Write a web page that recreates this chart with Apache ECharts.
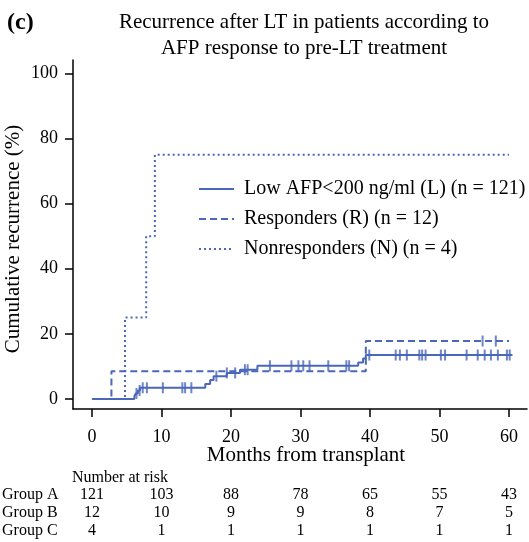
<!DOCTYPE html>
<html><head><meta charset="utf-8">
<script src="https://cdn.jsdelivr.net/npm/echarts@6/dist/echarts.min.js"></script>
<style>html,body{margin:0;padding:0;background:#fff}#c{width:529px;height:542px}</style>
</head><body><div id="c"></div>
<script>
const FONT = '"Liberation Serif","Times New Roman",serif';
const COLOR = '#4a67b9';

const seriesNames = ['Low AFP<200 ng/ml (L) (n = 121)', 'Responders (R) (n = 12)', 'Nonresponders (N) (n = 4)'];
// step points: [month, cumulative recurrence %]
const lowAfpSteps = [[0,0],[6.1,0.85],[6.3,1.7],[6.6,2.6],[6.9,3.45],[16.3,4.6],[17.0,5.8],[17.5,7.0],[19.4,8.0],[21.3,9.0],[23.8,10.2],[38.3,11.2],[39.0,12.4],[39.4,13.5],[60.5,13.5]];
const respSteps = [[0,0],[2.8,8.5],[39.4,17.8],[60,17.8]];
const nonrespSteps = [[0,0],[4.75,25],[7.8,50],[9.05,75],[60,75]];
// censoring times (months)
const lowAfpCensored = [6.4,6.85,7.3,7.9,10.2,13.0,13.4,14.3,17.9,19.4,20.6,22.0,22.4,25.6,28.7,29.7,30.4,31.3,34.0,36.6,37.0,39.9,43.7,44.3,45.3,47.1,47.5,48.0,50.2,50.8,53.9,55.5,56.5,57.4,58.4,59.7,60.1];
const respCensored = [56.2,58.1];

const xTicks = [0,10,20,30,40,50,60];
const yTicks = [0,20,40,60,80,100];

const riskMonths = [0,10,20,30,40,50,60];
const riskGroups = ['Group A','Group B','Group C'];
const riskA = [121,103,88,78,65,55,43];
const riskB = [12,10,9,9,8,7,5];
const riskC = [4,1,1,1,1,1,1];

function levelAt(steps, t){
  let v = 0;
  for (const s of steps){ if (s[0] <= t) v = s[1]; }
  return v;
}
const censorA = lowAfpCensored.map(t => [t, levelAt(lowAfpSteps, t)]);
const censorB = respCensored.map(t => [t, levelAt(respSteps, t)]);

const chart = echarts.init(document.getElementById('c'), null, {renderer:'canvas'});
const axisCommon = {
  type:'value', splitLine:{show:false},
  axisLine:{show:true, onZero:false, lineStyle:{color:'#000', width:1.5}},
  axisTick:{show:true, length:8, lineStyle:{color:'#000', width:1.5}},
  axisLabel:{fontSize:18, fontFamily:FONT, color:'#000'}
};
const option = {
  animation:false,
  backgroundColor:'#fff',
  grid:{left:73, right:2, top:60, bottom:133, containLabel:false, outerBoundsMode:'none'},
  xAxis: Object.assign({}, axisCommon, {
    min:-2.73, max:62.59,
    axisTick: Object.assign({}, axisCommon.axisTick, {customValues:xTicks}),
    axisLabel: Object.assign({}, axisCommon.axisLabel, {customValues:xTicks, margin:19}),
    name:'Months from transplant', nameLocation:'middle', nameGap:36, nameMoveOverlap:false,
    nameTextStyle:{fontSize:21, fontFamily:FONT, color:'#000', padding:[0,0,0,12]}
  }),
  yAxis: Object.assign({}, axisCommon, {
    min:-3.07, max:104.08,
    axisTick: Object.assign({}, axisCommon.axisTick, {customValues:yTicks}),
    axisLabel: Object.assign({}, axisCommon.axisLabel, {customValues:yTicks, margin:15}),
    name:'Cumulative recurrence (%)', nameLocation:'middle', nameGap:49, nameRotate:90, nameMoveOverlap:false,
    nameTextStyle:{fontSize:21, fontFamily:FONT, color:'#000', padding:[0,9,0,0]}
  }),
  legend:{
    orient:'vertical', left:193, top:174, itemWidth:35, itemHeight:14, itemGap:10,
    data:seriesNames,
    itemStyle:{color:'rgba(0,0,0,0)', borderWidth:0, opacity:0},
    textStyle:{fontSize:20, fontFamily:FONT, color:'#000', lineHeight:20, padding:[0,0,0,5]}
  },
  series:[
    {name:seriesNames[2], type:'line', step:'end', symbol:'none', data:nonrespSteps,
      color:COLOR, lineStyle:{color:COLOR, width:2, type:[2,3]}, z:2},
    {name:seriesNames[1], type:'line', step:'end', symbol:'none', data:respSteps,
      color:COLOR, lineStyle:{color:COLOR, width:2, type:[7,4]}, z:3},
    {name:seriesNames[0], type:'line', step:'end', symbol:'none', data:lowAfpSteps,
      color:COLOR, lineStyle:{color:COLOR, width:2, type:'solid'}, z:4},
    {name:'censorA', type:'scatter', data:censorA, symbol:'rect', symbolSize:[2,11],
      itemStyle:{color:COLOR}, silent:true, z:5},
    {name:'censorB', type:'scatter', data:censorB, symbol:'rect', symbolSize:[2,11],
      itemStyle:{color:COLOR}, silent:true, z:5}
  ]
};
chart.setOption(option);

// Text elements: panel tag, title, number-at-risk table
const g = [];
g.push({type:'text', x:7, y:23, style:{text:'(c)', font:'bold 24px '+FONT, fill:'#000', textAlign:'left', textVerticalAlign:'middle'}});
g.push({type:'text', x:304, y:22.5, style:{text:'Recurrence after LT in patients according to', font:'21px '+FONT, fill:'#000', textAlign:'center', textVerticalAlign:'middle'}});
g.push({type:'text', x:304, y:48.5, style:{text:'AFP response to pre-LT treatment', font:'21px '+FONT, fill:'#000', textAlign:'center', textVerticalAlign:'middle'}});
g.push({type:'text', x:72, y:478, style:{text:'Number at risk', font:'16px '+FONT, fill:'#000', textAlign:'left', textVerticalAlign:'middle'}});
const rows = [riskA, riskB, riskC];
const rowY = [495, 513, 531];
rows.forEach((row, i) => {
  g.push({type:'text', x:2, y:rowY[i], style:{text:riskGroups[i], font:'16px '+FONT, fill:'#000', textAlign:'left', textVerticalAlign:'middle'}});
  row.forEach((v, j) => {
    const px = chart.convertToPixel({xAxisIndex:0}, riskMonths[j]);
    g.push({type:'text', x:px, y:rowY[i], style:{text:String(v), font:'16px '+FONT, fill:'#000', textAlign:'center', textVerticalAlign:'middle'}});
  });
});
chart.setOption({graphic:{elements:g}});
</script>
</body></html>
